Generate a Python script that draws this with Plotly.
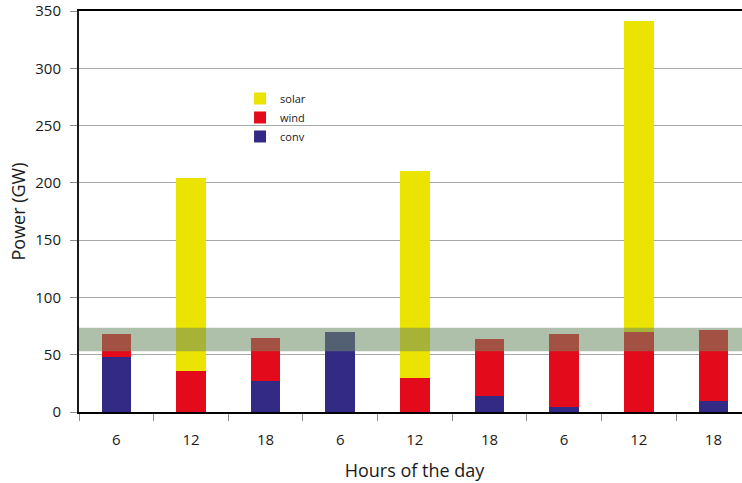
import plotly.graph_objects as go

hours = ["6", "12", "18", "6", "12", "18", "6", "12", "18"]
conv = [48, 0, 27, 70, 0, 14, 4, 0, 10]
wind = [20, 35.5, 38, 0, 30, 50, 64, 70, 62]
solar = [0, 168.5, 0, 0, 180, 0, 0, 271, 0]
band_low, band_high = 53, 73.5

x = list(range(len(hours)))
boundaries = [i - 0.5 for i in range(len(hours))]
xr = [-0.5, 8.49]

fig = go.Figure()
series = [("conv", conv, "#332a86"), ("wind", wind, "#e20a1b"), ("solar", solar, "#ebe300")]
for name, vals, col in series:
    fig.add_trace(go.Bar(x=x, y=vals, name=name, legendgroup=name,
                         marker=dict(color=col, line=dict(width=0)), width=0.395))

fig.add_shape(type="rect", xref="paper", x0=0, x1=1, yref="y", y0=band_low, y1=band_high,
              fillcolor="rgba(110,140,100,0.55)", line=dict(width=0), layer="above")

font = "Open Sans"
fig.update_layout(
    barmode="stack",
    width=750, height=483,
    margin=dict(l=79, r=0, t=11, b=71, autoexpand=False),
    paper_bgcolor="white", plot_bgcolor="white",
    font=dict(family=font, size=15, color="#1a1a1a"),
    legend=dict(x=0.24, y=0.818, xanchor="left", yanchor="top", traceorder="reversed",
                tracegroupgap=11, font=dict(size=11), bgcolor="rgba(0,0,0,0)"),
    xaxis=dict(range=xr, tickvals=x, ticktext=hours, ticks="", showline=True,
               linecolor="black", linewidth=2, mirror=True, showgrid=False,
               ticklabelstandoff=13, zeroline=False, automargin=False,
               minor=dict(tickvals=boundaries, ticks="outside", ticklen=7,
                          tickcolor="#8c8c8c", showgrid=False),
               title=dict(text="Hours of the day", standoff=16)),
    yaxis=dict(range=[0, 350], tickvals=[0, 50, 100, 150, 200, 250, 300, 350],
               ticks="outside", ticklen=7, tickcolor="#8c8c8c", showline=True,
               linecolor="#1a1a1a", linewidth=2, showgrid=True, gridcolor="#a8a8a8",
               gridwidth=1, zeroline=False, ticklabelstandoff=6, automargin=False,
               ticklabeloverflow="allow",
               title=dict(text="Power (GW)", standoff=5)),
)

fig.write_html("out.html", config={"displayModeBar": False},
               post_script="document.body.style.margin='0px';document.body.style.overflow='hidden';")
